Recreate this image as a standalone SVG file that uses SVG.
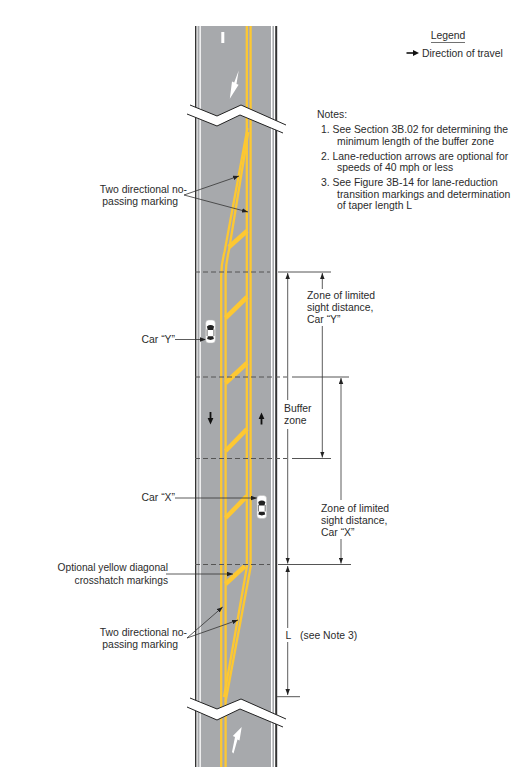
<svg xmlns="http://www.w3.org/2000/svg" width="527" height="771" viewBox="0 0 527 771">
<style>
text{font-family:"Liberation Sans",Arial,sans-serif;font-size:10.4px;fill:#2b2b2b}
.y{fill:none;stroke:#fdc832;stroke-width:2.3}
.d{stroke:#fdc832;stroke-width:4.6;fill:none}
.dash{stroke:#555;stroke-width:1;stroke-dasharray:5 3;fill:none}
.ext{stroke:#555;stroke-width:1;fill:none}
.dim{stroke:#333;stroke-width:.8;fill:none}
.lead{stroke:#333;stroke-width:.8;fill:none}
.brk{fill:#fff;stroke:none}
.brkl{fill:none;stroke:#222;stroke-width:1}
.e{text-anchor:end}
.m{text-anchor:middle}
.s{font-size:10.2px}
</style>
<defs>
<marker id="a" viewBox="0 0 8 6" refX="8" refY="3" markerWidth="6" markerHeight="5" markerUnits="userSpaceOnUse" orient="auto-start-reverse"><path d="M0 0L8 3L0 6Z" fill="#222"/></marker>
<g id="car">
<rect x="-4.8" y="-11.5" width="9.6" height="23" rx="3.2" fill="#fff" stroke="#bbb" stroke-width=".5"/>
<path d="M-3.6-5Q0-7.8 3.6-5L2.7-1.6H-2.7Z" fill="#222"/>
<path d="M-2.7 4.8H2.7L3.4 7.6Q0 9.2-3.4 7.6Z" fill="#222"/>
<path d="M-3.4-2V4.5M3.4-2V4.5" stroke="#333" stroke-width=".7"/>
</g>
</defs>
<g id="road">
<rect x="195" y="26" width="82" height="741" fill="#fff"/>
<rect x="195" y="26" width="1.4" height="741" fill="#333"/>
<rect x="275.2" y="26" width="2" height="741" fill="#333"/>
<rect x="197.5" y="26" width="76.5" height="741" fill="#a7a9ac"/>
<rect x="199.5" y="26" width="1.3" height="741" fill="#fff"/>
<rect x="271" y="26" width="1.4" height="741" fill="#fff"/>
<rect x="221.3" y="32" width="3" height="11" fill="#fff"/>
</g>
<g id="markings">
<path class="y" d="M246.8 26V565M250.6 26V565"/>
<path class="y" d="M247.5 128L224.5 252Q221.2 264 221.2 276V767"/>
<path class="y" d="M248.3 132L229 250Q225.6 264 225.6 276V767"/>
<path class="y" d="M247.2 565L224 697M251 565L225.5 702"/>
<path class="d" d="M229 247L247 231M225.5 318L247 297M225.5 383L247 363M225.5 451L247 429M225.5 518L247 496M225.5 584L245 566"/>
</g>
<g id="lane-arrows">
<path d="M238.7 70.5L236.5 84L238.6 84.8L229.8 98.8L232 81.5L234.2 82.5Z" fill="#fff"/>
<path d="M241.7 727L239.5 740.5L237.5 739.5L233.5 753.5L232 752L235 737L232.8 736Z" fill="#fff"/>
<path d="M210.5 424.5L207.6 418H209.6V412H211.4V418H213.4Z" fill="#111"/>
<path d="M261.5 412.5L258.6 419H260.6V424.5H262.4V419H264.4Z" fill="#111"/>
</g>
<g id="break-top">
<path class="brk" d="M190 105L217 116L241 105L286 125L283 133L240 115L217 126L187 114Z"/>
<path class="brkl" d="M190 105L217 116L241 105L286 125M187 114L217 126L240 115L283 133"/>
</g>
<g id="break-bottom">
<path class="brk" d="M190 698L217 709L241 699L286 719L283 727L240 709L217 720L187 707Z"/>
<path class="brkl" d="M190 698L217 709L241 699L286 719M187 707L217 720L240 709L283 727"/>
</g>
<g id="connectors">
<path class="dash" d="M195 272H270M195 377H287M195 458.5H287M195 564.5H270"/>
<path class="ext" d="M278 272H331M292 377H349M292 458.5H331M278 564.5H351M277 696.7H300"/>
<path class="dim" d="M287.7 273V400" marker-start="url(#a)"/>
<path class="dim" d="M287.7 429V563.5" marker-end="url(#a)"/>
<path class="dim" d="M287.7 566V628" marker-start="url(#a)"/>
<path class="dim" d="M287.7 642V695" marker-end="url(#a)"/>
<path class="dim" d="M322.3 273V289" marker-start="url(#a)"/>
<path class="dim" d="M322.3 326V457.5" marker-end="url(#a)"/>
<path class="dim" d="M341 378V500" marker-start="url(#a)"/>
<path class="dim" d="M341 539V563.5" marker-end="url(#a)"/>
<path class="lead" d="M184 195L239 176" marker-end="url(#a)"/>
<path class="lead" d="M184 195L248 212" marker-end="url(#a)"/>
<path class="lead" d="M187 638L222.7 607" marker-end="url(#a)"/>
<path class="lead" d="M187 638L238 620" marker-end="url(#a)"/>
<path class="lead" d="M166 574H233" marker-end="url(#a)"/>
<path class="lead" d="M175 339.5H206" marker-end="url(#a)"/>
<path class="lead" d="M175 498H257" marker-end="url(#a)"/>
<path d="M406.5 53H414" stroke="#111" stroke-width="1.6"/>
<path d="M413 50L419 53L413 56Z" fill="#111"/>
</g>
<g id="car-y"><use href="#car" x="210.5" y="331.5"/></g>
<g id="car-x"><use href="#car" x="261.8" y="507"/></g>
<g id="legend">
<text x="448" y="39" class="m">Legend</text>
<path d="M431 42.5H465" stroke="#333" stroke-width=".7"/>
<text x="422" y="57">Direction of travel</text>
</g>
<g id="notes">
<text x="317" y="118">Notes:</text>
<text x="321" y="133">1. See Section 3B.02 for determining the</text>
<text x="337" y="145">minimum length of the buffer zone</text>
<text x="321" y="160">2. Lane-reduction arrows are optional for</text>
<text x="337" y="171">speeds of 40 mph or less</text>
<text x="321" y="186">3. See Figure 3B-14 for lane-reduction</text>
<text x="337" y="198">transition markings and determination</text>
<text x="337" y="209">of taper length L</text>
</g>
<g id="label-two-top"><text x="187" y="193" class="e">Two directional no-</text><text x="178" y="205" class="e">passing marking</text></g>
<g id="label-car-y"><text x="175" y="343" class="e">Car “Y”</text></g>
<g id="label-car-x"><text x="175" y="501" class="e">Car “X”</text></g>
<g id="label-optional"><text x="168" y="571" class="e s">Optional yellow diagonal</text><text x="168" y="584" class="e s">crosshatch markings</text></g>
<g id="label-two-bottom"><text x="187" y="636" class="e">Two directional no-</text><text x="178" y="648" class="e">passing marking</text></g>
<g id="label-zone-y"><text x="307" y="299">Zone of limited</text><text x="307" y="311">sight distance,</text><text x="307" y="323">Car “Y”</text></g>
<g id="label-zone-x"><text x="321" y="512">Zone of limited</text><text x="321" y="524">sight distance,</text><text x="321" y="536">Car “X”</text></g>
<g id="label-buffer"><text x="284" y="412">Buffer</text><text x="284" y="424">zone</text></g>
<g id="label-l"><text x="285.5" y="639">L</text><text x="300" y="639">(see Note 3)</text></g>
</svg>
